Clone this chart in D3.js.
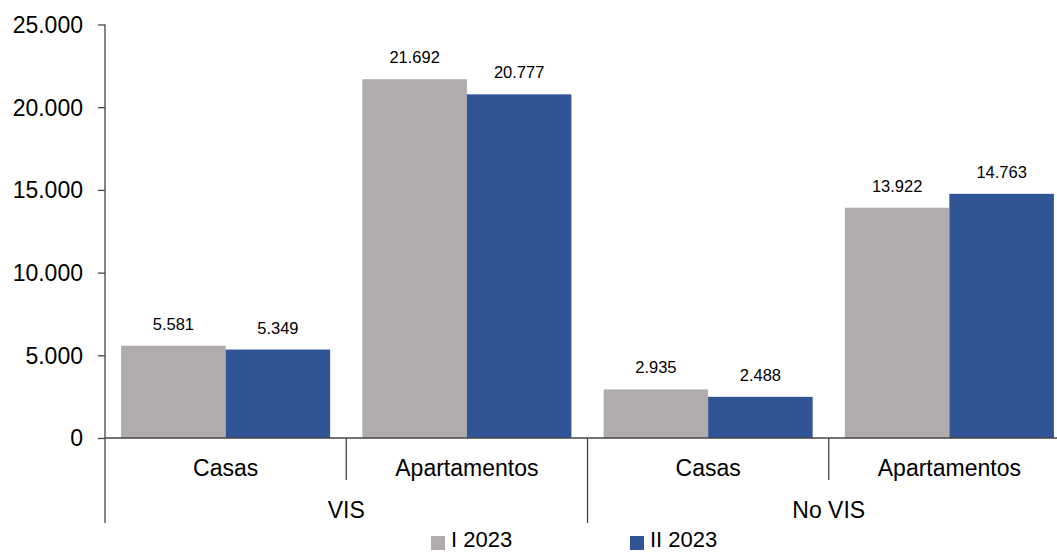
<!DOCTYPE html>
<html lang="es">
<head>
    <meta charset="UTF-8">
    <title>VIS / No VIS</title>
    <script src="https://d3js.org/d3.v7.min.js"></script>
    <style>
        body { margin: 0; background: #fff; }
        text { font-family: "Liberation Sans", Arial, sans-serif; fill: #000; }
        .axis-line { stroke: #444; stroke-width: 1.3; }
    </style>
</head>
<body>
    <div id="chart"></div>
    <script>
        // data
        const groups = ["VIS", "No VIS"];
        const subcats = ["Casas", "Apartamentos"];
        const seriesNames = ["I 2023", "II 2023"];
        const seriesColors = ["#afacab", "#2f5597"];
        const valuesI = [5581, 21692, 2935, 13922];
        const valuesII = [5349, 20777, 2488, 14763];
        const yTicks = [0, 5000, 10000, 15000, 20000, 25000];

        const width = 1057, height = 552;
        const plotLeft = 105, plotRight = 1070, plotTop = 24.5, zeroY = 438;

        const svg = d3.select("#chart").append("svg")
            .attr("width", width)
            .attr("height", height);

        const locale = d3.formatLocale({ decimal: ",", thousands: ".", grouping: [3], currency: ["$", ""] });
        const fmt = locale.format(",d");

        const keys = [];
        groups.forEach(g => subcats.forEach(s => keys.push(g + "|" + s)));

        const x0 = d3.scaleBand().domain(keys).range([plotLeft, plotRight]).padding(0);
        const x1 = d3.scaleBand().domain(seriesNames).range([0, x0.bandwidth()])
            .paddingInner(0).paddingOuter(0.154);
        const y = d3.scaleLinear().domain([0, 25000]).range([zeroY, plotTop]);

        const rows = keys.map((k, i) => ({ key: k, vals: [valuesI[i], valuesII[i]] }));

        // bars
        const cat = svg.append("g").selectAll("g")
            .data(rows)
            .join("g")
            .attr("transform", d => `translate(${x0(d.key)},0)`);

        cat.selectAll("rect")
            .data(d => d.vals.map((v, i) => ({ name: seriesNames[i], v, i })))
            .join("rect")
            .attr("x", d => x1(d.name))
            .attr("y", d => y(d.v))
            .attr("width", x1.bandwidth())
            .attr("height", d => zeroY - y(d.v))
            .attr("fill", d => seriesColors[d.i]);

        cat.selectAll("text")
            .data(d => d.vals.map((v, i) => ({ name: seriesNames[i], v })))
            .join("text")
            .attr("x", d => x1(d.name) + x1.bandwidth() / 2)
            .attr("y", d => y(d.v) - 16)
            .attr("text-anchor", "middle")
            .style("font-size", "16.5px")
            .text(d => fmt(d.v));

        // y axis
        const yAxis = svg.append("g")
            .attr("transform", `translate(${plotLeft},0)`)
            .call(d3.axisLeft(y).tickValues(yTicks).tickFormat(fmt).tickSize(7).tickPadding(15));
        yAxis.select(".domain").remove();
        yAxis.selectAll(".tick line").attr("stroke", "#444").attr("stroke-width", 1.3);
        yAxis.selectAll(".tick text")
            .style("font-size", "23px")
            .attr("font-family", null)
            .attr("dy", "0.34em");

        svg.append("line").attr("class", "axis-line")
            .attr("x1", plotLeft).attr("x2", plotLeft).attr("y1", plotTop).attr("y2", 523);
        svg.append("line").attr("class", "axis-line")
            .attr("x1", plotLeft).attr("x2", plotRight).attr("y1", zeroY).attr("y2", zeroY);

        // category separators
        keys.forEach((k, i) => {
            if (i === 0) return;
            const bx = x0(k);
            const long = i % subcats.length === 0;
            svg.append("line").attr("class", "axis-line")
                .attr("x1", bx).attr("x2", bx)
                .attr("y1", zeroY).attr("y2", long ? 523 : 480);
        });

        // sub-category labels
        svg.append("g").selectAll("text")
            .data(keys)
            .join("text")
            .attr("x", k => x0(k) + x0.bandwidth() / 2)
            .attr("y", 476)
            .attr("text-anchor", "middle")
            .style("font-size", "23px")
            .text(k => k.split("|")[1]);

        // group labels
        svg.append("g").selectAll("text")
            .data(groups)
            .join("text")
            .attr("x", g => {
                const ks = keys.filter(k => k.startsWith(g + "|"));
                return (x0(ks[0]) + x0(ks[ks.length - 1]) + x0.bandwidth()) / 2;
            })
            .attr("y", 518)
            .attr("text-anchor", "middle")
            .style("font-size", "23px")
            .text(g => g);

        // legend
        const legendX = [431, 630];
        const legend = svg.append("g").selectAll("g")
            .data(seriesNames)
            .join("g")
            .attr("transform", (d, i) => `translate(${legendX[i]},536)`);
        legend.append("rect")
            .attr("width", 14).attr("height", 14)
            .attr("fill", (d, i) => seriesColors[i]);
        legend.append("text")
            .attr("x", 20).attr("y", 11)
            .style("font-size", "22px")
            .text(d => d);
    </script>
</body>
</html>
